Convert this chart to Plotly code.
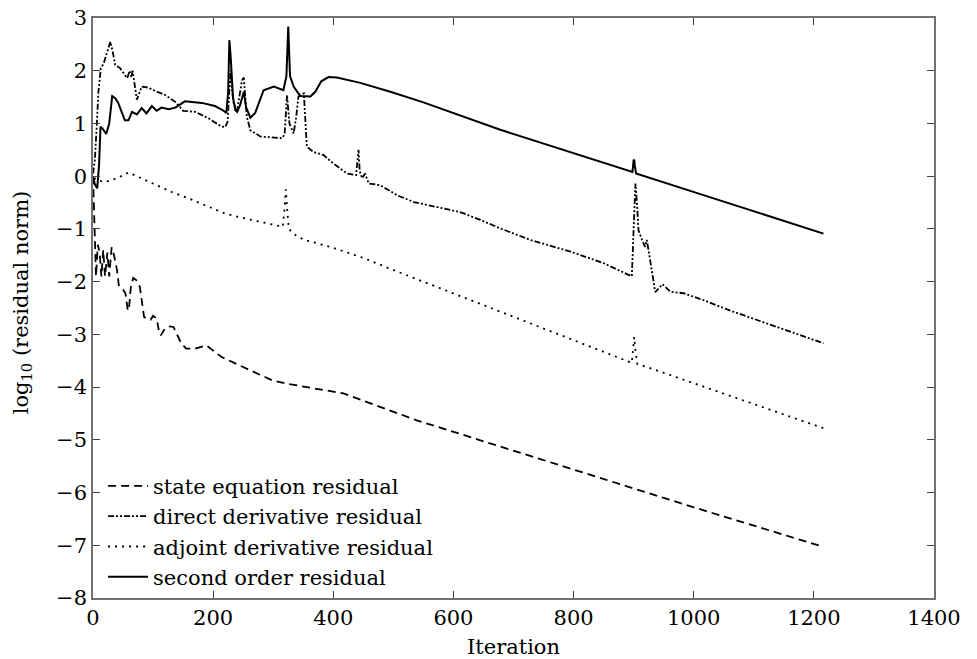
import plotly.graph_objects as go

# ---- data ----
state_x = [0, 3, 5, 8, 11, 14, 17, 20, 24, 27, 31, 35, 40, 43, 50, 54, 58, 60, 63, 67, 72, 78, 82, 85, 90, 96, 100, 106, 110, 113, 118, 126, 134, 140, 147, 155, 170, 189, 214, 250, 300, 330, 380, 417, 539, 645, 800, 1000, 1216]
state_y = [0.0, -1.0, -1.9, -1.3, -1.45, -1.9, -1.4, -1.9, -1.45, -1.9, -1.35, -1.5, -1.78, -2.07, -2.15, -2.22, -2.55, -2.5, -2.1, -1.93, -1.97, -2.1, -2.4, -2.67, -2.7, -2.72, -2.65, -2.7, -2.95, -3.02, -2.92, -2.85, -2.86, -3.0, -3.17, -3.27, -3.27, -3.21, -3.43, -3.62, -3.88, -3.95, -4.05, -4.12, -4.63, -5.01, -5.57, -6.28, -7.03]

direct_x = [0, 3, 6, 9, 13, 18, 22, 29, 33, 37, 45, 53, 57, 61, 64, 66, 73, 81, 92, 103, 120, 137, 150, 170, 192, 214, 220, 224, 226, 229, 232, 234, 240, 244, 248, 251, 256, 262, 279, 295, 315, 319, 323, 327, 334, 338, 342, 351, 354, 356, 367, 384, 400, 423, 438, 440, 442, 444, 448, 453, 459, 478, 506, 534, 567, 611, 645, 678, 728, 795, 850, 897, 900, 903, 906, 908, 914, 919, 922, 926, 936, 948, 961, 983, 1016, 1061, 1216]
direct_y = [0.05, 0.3, 0.9, 1.6, 2.05, 2.14, 2.3, 2.55, 2.35, 2.11, 2.05, 1.92, 1.86, 2.0, 1.88, 2.0, 1.45, 1.7, 1.68, 1.62, 1.54, 1.41, 1.24, 1.22, 1.10, 0.94, 0.93, 1.03, 1.4, 2.01, 1.6, 1.38, 1.25, 1.5, 1.82, 1.87, 1.13, 0.87, 0.75, 0.74, 0.72, 0.8, 1.54, 1.0, 0.81, 1.1, 1.51, 1.57, 1.0, 0.56, 0.46, 0.40, 0.24, 0.05, 0.02, 0.3, 0.50, 0.1, -0.04, 0.05, -0.14, -0.17, -0.36, -0.49, -0.57, -0.68, -0.83, -0.99, -1.21, -1.43, -1.65, -1.90, -1.0, -0.14, -0.6, -1.02, -1.21, -1.34, -1.21, -1.5, -2.2, -2.05, -2.19, -2.22, -2.35, -2.55, -3.17]

adjoint_x = [0, 4, 20, 40, 59, 81, 103, 131, 159, 187, 220, 260, 300, 316, 319, 321, 323, 326, 335, 350, 400, 450, 500, 600, 795, 897, 899, 901, 903, 906, 930, 1216]
adjoint_y = [0.1, -0.07, -0.11, -0.04, 0.07, -0.04, -0.15, -0.30, -0.42, -0.55, -0.71, -0.82, -0.93, -0.96, -0.6, -0.25, -0.6, -1.0, -1.1, -1.2, -1.36, -1.55, -1.78, -2.22, -3.08, -3.54, -3.3, -3.05, -3.3, -3.56, -3.65, -4.78]

second_x = [0, 3, 7, 10, 12.5, 16, 22, 27, 32, 37, 42, 48, 53, 59, 65, 73, 81, 89, 98, 106, 114, 126, 137, 153, 181, 203, 215, 222, 225, 227, 229, 233, 237, 240, 245, 251, 255, 262, 270, 284, 301, 317, 322, 325, 328, 334, 345, 362, 370, 380, 392, 406, 445, 495, 550, 678, 795, 898, 900, 901, 902, 904, 1011, 1061, 1216]
second_y = [0.0, -0.15, -0.23, 0.2, 0.94, 0.9, 0.8, 1.0, 1.52, 1.48, 1.39, 1.2, 1.06, 1.06, 1.22, 1.17, 1.29, 1.19, 1.33, 1.24, 1.30, 1.27, 1.30, 1.42, 1.39, 1.33, 1.26, 1.20, 1.6, 2.58, 2.3, 1.5, 1.25, 1.22, 1.35, 1.60, 1.3, 1.11, 1.2, 1.63, 1.70, 1.63, 1.9, 2.84, 1.9, 1.70, 1.52, 1.51, 1.6, 1.8, 1.88, 1.87, 1.77, 1.60, 1.40, 0.88, 0.46, 0.08, 0.3, 0.31, 0.2, 0.05, -0.34, -0.52, -1.09]

names = ["state equation residual", "direct derivative residual",
         "adjoint derivative residual", "second order residual"]
x_ticks = [0, 200, 400, 600, 800, 1000, 1200, 1400]
y_ticks = [3, 2, 1, 0, -1, -2, -3, -4, -5, -6, -7, -8]

FONT = "DejaVu Serif"
FS = 21

fig = go.Figure()
series = [(state_x, state_y, "8px,5px", 1.8),
          (direct_x, direct_y, "6px,2px,2px,2px,2px,2px", 1.8),
          (adjoint_x, adjoint_y, "2px,5px", 1.8),
          (second_x, second_y, "solid", 2.0)]
for (xs, ys, dash, w), nm in zip(series, names):
    fig.add_trace(go.Scatter(x=xs, y=ys, mode="lines", name=nm,
                             line=dict(color="black", width=w, dash=dash)))

axis_common = dict(showline=True, mirror="ticks", linecolor="#707070", linewidth=1.5,
                   ticks="inside", ticklen=7, tickcolor="#404040", tickwidth=1.2,
                   showgrid=False, zeroline=False, automargin=False,
                   ticklabeloverflow="allow",
                   tickfont=dict(family=FONT, size=FS, color="black"))

fig.update_layout(
    width=977, height=659,
    margin=dict(l=93, r=43, t=18, b=61, autoexpand=False),
    paper_bgcolor="white", plot_bgcolor="white",
    showlegend=True,
    legend=dict(x=0.012, y=0.228, xanchor="left", yanchor="top",
                bgcolor="rgba(0,0,0,0)", borderwidth=0,
                font=dict(family=FONT, size=FS, color="black"),
                tracegroupgap=0, itemwidth=40),
    xaxis=dict(range=[0, 1400], tickvals=x_ticks, **axis_common,
               title=dict(text="Iteration", font=dict(family=FONT, size=FS, color="black"),
                          standoff=11)),
    yaxis=dict(range=[-8, 3], tickvals=y_ticks, **axis_common),
    annotations=[dict(text="log<sub>10</sub> (residual norm)", textangle=-90,
                      xref="paper", yref="paper", x=-0.085, y=0.509,
                      xanchor="center", yanchor="middle",
                      showarrow=False, font=dict(family=FONT, size=FS, color="black"))],
)

fig.write_html("out.html", config={"displayModeBar": False},
               post_script="document.body.style.margin='0';")
